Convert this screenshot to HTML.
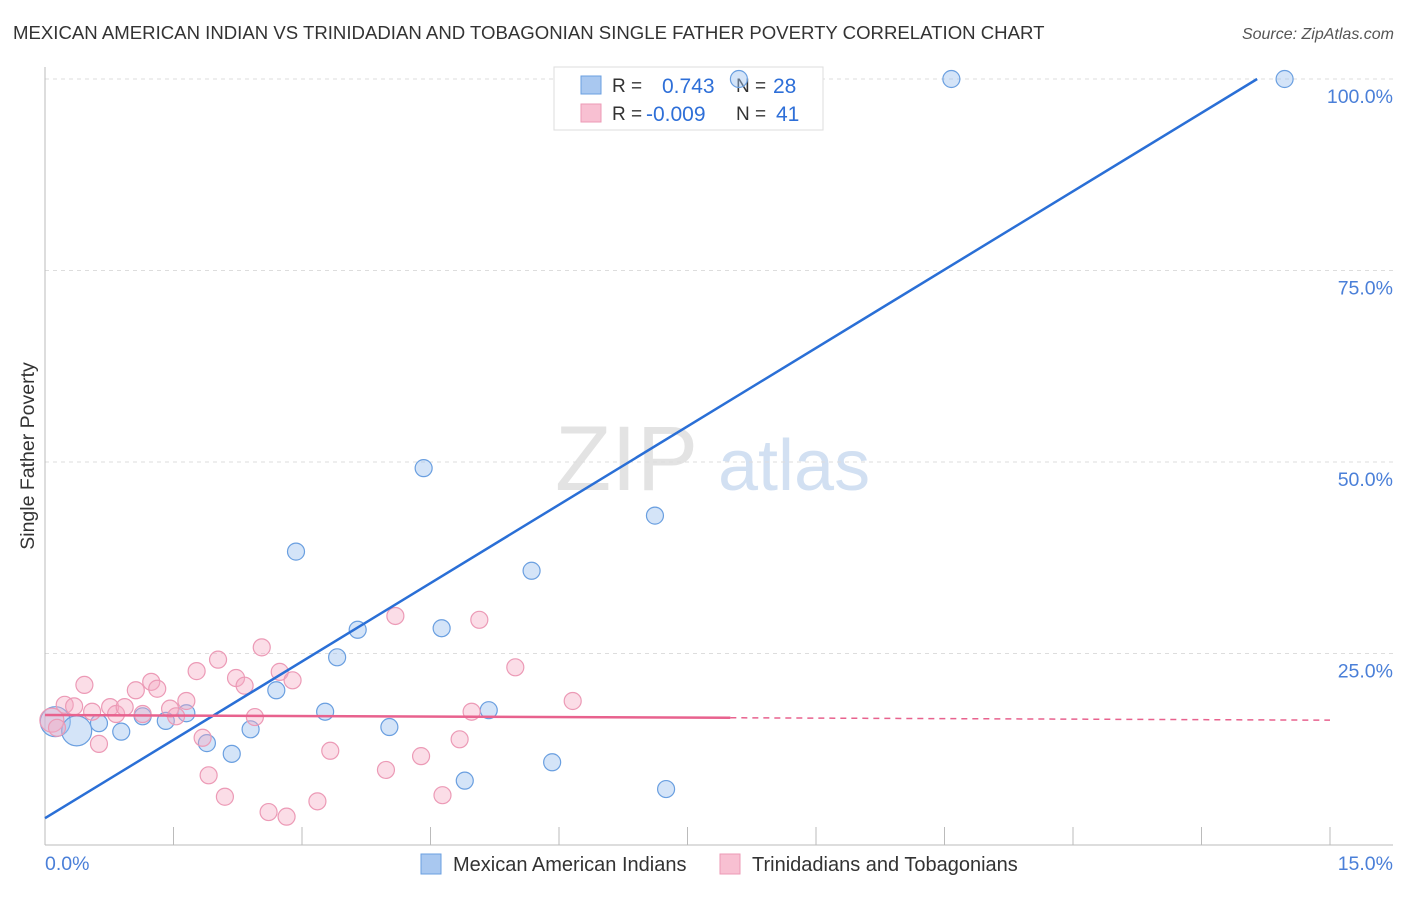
<!DOCTYPE html>
<html><head><meta charset="utf-8"><style>
body{margin:0;background:#fff;font-family:"Liberation Sans",sans-serif;}
svg text{font-family:"Liberation Sans",sans-serif;}
</style></head><body>
<svg id="chart" width="1406" height="892" viewBox="0 0 1406 892" xmlns="http://www.w3.org/2000/svg">
<text x="13" y="39" font-size="18.6" fill="#333">MEXICAN AMERICAN INDIAN VS TRINIDADIAN AND TOBAGONIAN SINGLE FATHER POVERTY CORRELATION CHART</text>
<text x="1394" y="39" font-size="16" fill="#555" font-style="italic" text-anchor="end">Source: ZipAtlas.com</text>
<g>
<text x="555" y="490" font-size="92" fill="#ddd" font-family="Liberation Serif" opacity="0.8">ZIP</text>
<text x="718" y="490" font-size="72" fill="#c8d9f0" opacity="0.8">atlas</text>
</g>
<g id="grid"></g>
<g id="axes"></g>
<g>
<rect x="554" y="67" width="269" height="63" fill="#fff" stroke="#ddd"/>
<rect x="581" y="76" width="20" height="18" fill="#a9c8f0" stroke="#6a9fe0"/>
<rect x="581" y="104" width="20" height="18" fill="#f8c0d2" stroke="#ec9ab6"/>
<text x="612" y="92" font-size="19" fill="#333">R =</text>
<text x="662" y="93" font-size="21" fill="#2e6fd8">0.743</text>
<text x="736" y="92" font-size="19" fill="#333">N =</text>
<text x="773" y="93" font-size="21" fill="#2e6fd8">28</text>
<text x="612" y="120" font-size="19" fill="#333">R =</text>
<text x="646" y="121" font-size="21" fill="#2e6fd8">-0.009</text>
<text x="736" y="120" font-size="19" fill="#333">N =</text>
<text x="776" y="121" font-size="21" fill="#2e6fd8">41</text>
</g>
<g id="marks"></g>
<text transform="translate(34,456) rotate(-90)" font-size="19.5" fill="#333" text-anchor="middle">Single Father Poverty</text>
<g>
<rect x="421" y="854" width="20" height="20" fill="#a9c8f0" stroke="#6a9fe0"/>
<text x="453" y="871" font-size="20" fill="#333">Mexican American Indians</text>
<rect x="720" y="854" width="20" height="20" fill="#f8c0d2" stroke="#ec9ab6"/>
<text x="752" y="871" font-size="20" fill="#333">Trinidadians and Tobagonians</text>
</g>
<text x="45" y="870" font-size="19.5" fill="#4a7fd8">0.0%</text>
<text x="1393" y="870" font-size="19.5" fill="#4a7fd8" text-anchor="end">15.0%</text>
</svg>
<script>
const yTicks=[25,50,75,100];
const yTickLabels=["25.0%","50.0%","75.0%","100.0%"];
const xTicks=[0,1.5,3,4.5,6,7.5,9,10.5,12,13.5,15];
const blueX=[0.12,0.37,0.63,0.89,1.14,1.41,1.65,1.89,2.18,2.40,2.70,2.93,3.27,3.41,3.65,4.02,4.42,4.63,4.90,5.18,5.68,5.92,7.12,7.25,8.10,10.58,14.47];
const blueY=[16.1,14.9,15.9,14.8,16.8,16.2,17.2,13.3,11.9,15.1,20.2,38.3,17.4,24.5,28.1,15.4,49.2,28.3,8.4,17.6,35.8,10.8,43.0,7.3,100,100,100];
const blueBig=[1,1,0,0,0,0,0,0,0,0,0,0,0,0,0,0,0,0,0,0,0,0,0,0,0,0,0];
const pinkX=[0.08,0.14,0.23,0.34,0.46,0.55,0.63,0.76,0.83,0.93,1.06,1.14,1.24,1.31,1.46,1.53,1.65,1.77,1.84,1.91,2.02,2.10,2.23,2.33,2.45,2.53,2.61,2.74,2.82,2.89,3.18,3.33,3.98,4.09,4.39,4.64,4.84,4.98,5.07,5.49,6.16];
const pinkY=[16.3,15.3,18.3,18.1,20.9,17.4,13.2,18.0,17.1,18.0,20.2,17.1,21.3,20.4,17.8,16.8,18.8,22.7,14.0,9.1,24.2,6.3,21.8,20.8,16.7,25.8,4.3,22.6,3.7,21.5,5.7,12.3,9.8,29.9,11.6,6.5,13.8,17.4,29.4,23.2,18.8];
const blueLine=[3.5,6.82];
const pinkLine=[16.97,-0.045];
const pinkSolidEnd=8.0;

const NS="http://www.w3.org/2000/svg";
const X0=45,X1=1330,Y0=845,Y100=79;
const xs=v=>X0+v/15*(X1-X0);
const ys=v=>Y0-v/100*(Y0-Y100);
function mk(tag,attrs,parent){const e=document.createElementNS(NS,tag);for(const k in attrs)e.setAttribute(k,attrs[k]);parent.appendChild(e);return e;}
const grid=document.getElementById('grid'),axes=document.getElementById('axes'),marks=document.getElementById('marks');
yTicks.forEach((t,i)=>{
 const l=mk('line',{x1:X0,x2:1393,y1:ys(t),y2:ys(t),stroke:'#ddd','stroke-dasharray':'4,4'},grid);
 
 
 const tx=mk('text',{x:1393,y:ys(t)+24,'font-size':19.5,fill:'#4a7fd8','text-anchor':'end'},axes);
 tx.textContent=yTickLabels[i];
 
 
});
const ya=mk('line',{x1:X0,x2:X0,y1:67,y2:Y0,stroke:'#bbb'},axes);


const xa=mk('line',{x1:X0,x2:1393,y1:Y0,y2:Y0,stroke:'#bbb'},axes);


xTicks.forEach(t=>{
 const l=mk('line',{x1:xs(t),x2:xs(t),y1:827,y2:Y0,stroke:'#bbb'},axes);
 
 
});
blueX.forEach((x,i)=>{
 const c=mk('circle',{cx:xs(x),cy:ys(blueY[i]),r:blueBig[i]?15:8.5,fill:'rgba(160,196,240,0.45)',stroke:'#6a9fe0','stroke-width':1.2},marks);
 
 
});
pinkX.forEach((x,i)=>{
 const c=mk('circle',{cx:xs(x),cy:ys(pinkY[i]),r:i==0?12:8.5,fill:'rgba(245,170,195,0.4)',stroke:'#ec9ab6','stroke-width':1.2},marks);
 
 
});
const bx1=(100-blueLine[0])/blueLine[1];
const bl=mk('line',{x1:xs(0),y1:ys(blueLine[0]),x2:xs(bx1),y2:ys(100),stroke:'#2a6fd6','stroke-width':2.5},marks);


const pl=mk('line',{x1:xs(0),y1:ys(pinkLine[0]),x2:xs(pinkSolidEnd),y2:ys(pinkLine[0]+pinkLine[1]*pinkSolidEnd),stroke:'#e8628e','stroke-width':2.5},marks);


const pd=mk('line',{x1:xs(pinkSolidEnd),y1:ys(pinkLine[0]+pinkLine[1]*pinkSolidEnd),x2:xs(15),y2:ys(pinkLine[0]+pinkLine[1]*15),stroke:'#e8628e','stroke-width':1.5,'stroke-dasharray':'6,5'},marks);


</script>
</body></html>
